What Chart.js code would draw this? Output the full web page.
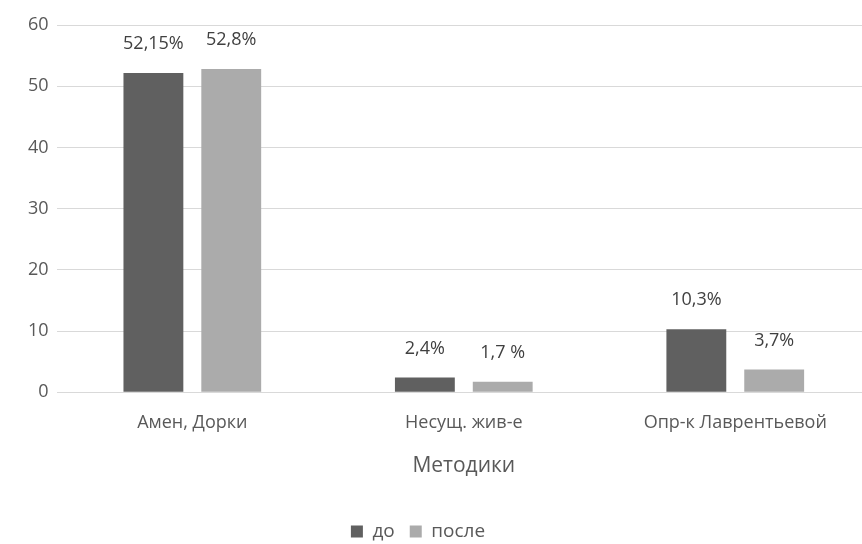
<!DOCTYPE html>
<html>
<head>
<meta charset="utf-8">
<script src="https://cdn.jsdelivr.net/npm/chart.js@4/dist/chart.umd.min.js"></script>
<style>
    html, body { margin: 0; padding: 0; background: #fff; overflow: hidden; }
    #wrap { width: 871px; height: 544px; }
</style>
</head>
<body>
<div id="wrap"><canvas id="chart" width="871" height="544"></canvas></div>
<script>
// Data
const categories = ['Амен, Дорки', 'Несущ. жив-е', 'Опр-к Лаврентьевой'];
const beforeValues = [52.15, 2.4, 10.3];
const afterValues = [52.8, 1.7, 3.7];
const beforeLabels = ['52,15%', '2,4%', '10,3%'];
const afterLabels = ['52,8%', '1,7 %', '3,7%'];
const yTicks = [0, 10, 20, 30, 40, 50, 60];

const FONT = "'Open Sans', 'DejaVu Sans', sans-serif";

// Draws the value text above each bar
const barLabels = {
    id: 'barLabels',
    afterDatasetsDraw(chart) {
        const ctx = chart.ctx;
        ctx.save();
        ctx.font = `18px ${FONT}`;
        ctx.fillStyle = '#404040';
        ctx.textAlign = 'center';
        ctx.textBaseline = 'middle';
        chart.data.datasets.forEach((ds, i) => {
            chart.getDatasetMeta(i).data.forEach((bar, j) => {
                ctx.fillText(ds.valueLabels[j], bar.x, bar.y - 29);
            });
        });
        ctx.restore();
    }
};

// Legend sits a bit left of centre and low in the original
const legendShift = {
    id: 'legendShift',
    afterLayout(chart) {
        const lg = chart.legend;
        const dx = 418 - (lg.left + lg.right) / 2;
        lg.left += dx; lg.right += dx;
        lg.top += 7; lg.bottom += 7;
    }
};

new Chart(document.getElementById('chart').getContext('2d'), {
    type: 'bar',
    data: {
        labels: categories,
        datasets: [
            { label: 'до', data: beforeValues, valueLabels: beforeLabels, backgroundColor: '#606060' },
            { label: 'после', data: afterValues, valueLabels: afterLabels, backgroundColor: '#ababab' }
        ]
    },
    options: {
        responsive: false,
        animation: false,
        layout: { padding: { top: 25, right: 0, left: 20, bottom: 0 } },
        datasets: { bar: { categoryPercentage: 0.5735, barPercentage: 0.769 } },
        plugins: {
            legend: {
                position: 'bottom',
                labels: {
                    font: { family: FONT, size: 19 },
                    color: '#595959',
                    boxWidth: 12,
                    boxHeight: 12,
                    padding: 15
                }
            },
            tooltip: { enabled: false }
        },
        scales: {
            x: {
                grid: { display: false, drawTicks: false },
                border: { display: false },
                ticks: { color: '#595959', font: { family: FONT, size: 18 }, padding: 20 },
                title: { display: true, text: 'Методики', color: '#595959', font: { family: FONT, size: 21 }, padding: { top: 0, bottom: 21 } }
            },
            y: {
                min: 0,
                max: 60,
                afterBuildTicks: axis => { axis.ticks = yTicks.map(v => ({ value: v })); },
                grid: { color: '#d9d9d9', drawTicks: false },
                border: { display: false },
                ticks: { color: '#595959', font: { family: FONT, size: 18 }, padding: 8 }
            }
        }
    },
    plugins: [barLabels, legendShift]
});
</script>
</body>
</html>
